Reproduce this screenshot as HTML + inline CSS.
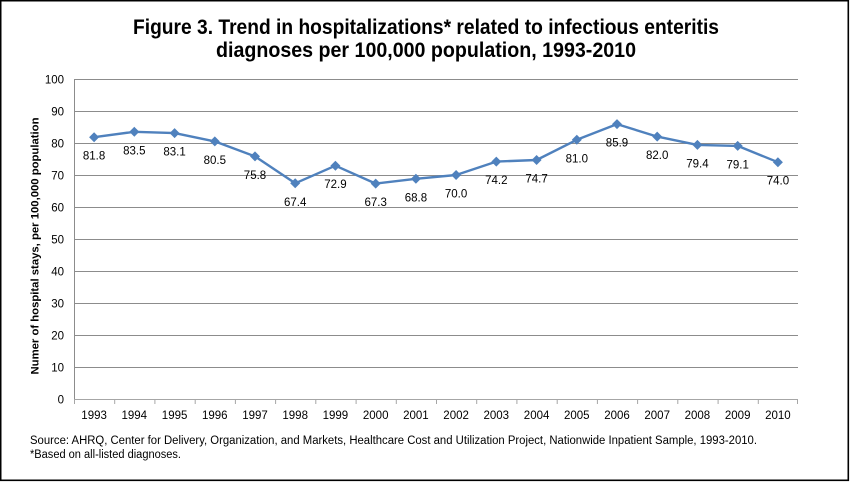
<!DOCTYPE html>
<html>
<head>
<meta charset="utf-8">
<style>
  html,body{margin:0;padding:0;background:#fff;}
  svg{display:block;}
  text{font-family:"Liberation Sans", Arial, sans-serif;}
</style>
</head>
<body>
<svg width="850" height="482" viewBox="0 0 850 482" xmlns="http://www.w3.org/2000/svg">
  <rect x="0" y="0" width="850" height="482" fill="#fff"/>
  <rect x="0.7" y="0.7" width="847.6" height="479.6" fill="none" stroke="#000" stroke-width="1.6"/>

  <!-- Title -->
  <text x="133" y="34" font-size="21" font-weight="bold" fill="#000" textLength="586" lengthAdjust="spacingAndGlyphs">Figure 3. Trend in hospitalizations* related to infectious enteritis</text>
  <text x="216" y="57" font-size="21" font-weight="bold" fill="#000" textLength="420" lengthAdjust="spacingAndGlyphs">diagnoses per 100,000 population, 1993-2010</text>

  <!-- Gridlines -->
  <g stroke="#8c8c8c" stroke-width="1">
    <line x1="74" y1="79.5" x2="798" y2="79.5"/>
    <line x1="74" y1="111.5" x2="798" y2="111.5"/>
    <line x1="74" y1="143.5" x2="798" y2="143.5"/>
    <line x1="74" y1="175.5" x2="798" y2="175.5"/>
    <line x1="74" y1="207.5" x2="798" y2="207.5"/>
    <line x1="74" y1="239.5" x2="798" y2="239.5"/>
    <line x1="74" y1="271.5" x2="798" y2="271.5"/>
    <line x1="74" y1="303.5" x2="798" y2="303.5"/>
    <line x1="74" y1="335.5" x2="798" y2="335.5"/>
    <line x1="74" y1="367.5" x2="798" y2="367.5"/>
    <line x1="74.5" y1="79.5" x2="74.5" y2="399.5"/>
  </g>
  <line x1="74" y1="399.5" x2="798" y2="399.5" stroke="#a6a6a6" stroke-width="1"/>
  <!-- x ticks -->
  <g stroke="#a6a6a6" stroke-width="1">
    <line x1="74.5" y1="399" x2="74.5" y2="404"/>
    <line x1="114.7" y1="399" x2="114.7" y2="404"/>
    <line x1="154.9" y1="399" x2="154.9" y2="404"/>
    <line x1="195.2" y1="399" x2="195.2" y2="404"/>
    <line x1="235.4" y1="399" x2="235.4" y2="404"/>
    <line x1="275.6" y1="399" x2="275.6" y2="404"/>
    <line x1="315.8" y1="399" x2="315.8" y2="404"/>
    <line x1="356.1" y1="399" x2="356.1" y2="404"/>
    <line x1="396.3" y1="399" x2="396.3" y2="404"/>
    <line x1="436.5" y1="399" x2="436.5" y2="404"/>
    <line x1="476.7" y1="399" x2="476.7" y2="404"/>
    <line x1="516.9" y1="399" x2="516.9" y2="404"/>
    <line x1="557.2" y1="399" x2="557.2" y2="404"/>
    <line x1="597.4" y1="399" x2="597.4" y2="404"/>
    <line x1="637.6" y1="399" x2="637.6" y2="404"/>
    <line x1="677.8" y1="399" x2="677.8" y2="404"/>
    <line x1="718.1" y1="399" x2="718.1" y2="404"/>
    <line x1="758.3" y1="399" x2="758.3" y2="404"/>
    <line x1="797.5" y1="399" x2="797.5" y2="404"/>
  </g>

  <!-- Y tick labels -->
  <g font-size="11.5" fill="#000" text-anchor="end">
    <text x="64" y="83.5">100</text>
    <text x="64" y="115.5">90</text>
    <text x="64" y="147.5">80</text>
    <text x="64" y="179.5">70</text>
    <text x="64" y="211.5">60</text>
    <text x="64" y="243.5">50</text>
    <text x="64" y="275.5">40</text>
    <text x="64" y="307.5">30</text>
    <text x="64" y="339.5">20</text>
    <text x="64" y="371.5">10</text>
    <text x="64" y="403.5">0</text>
  </g>

  <!-- X labels -->
  <g font-size="11.5" fill="#000" text-anchor="middle">
    <text x="94.1" y="419">1993</text>
    <text x="134.3" y="419">1994</text>
    <text x="174.6" y="419">1995</text>
    <text x="214.8" y="419">1996</text>
    <text x="255" y="419">1997</text>
    <text x="295.2" y="419">1998</text>
    <text x="335.4" y="419">1999</text>
    <text x="375.7" y="419">2000</text>
    <text x="415.9" y="419">2001</text>
    <text x="456.1" y="419">2002</text>
    <text x="496.3" y="419">2003</text>
    <text x="536.6" y="419">2004</text>
    <text x="576.8" y="419">2005</text>
    <text x="617" y="419">2006</text>
    <text x="657.2" y="419">2007</text>
    <text x="697.4" y="419">2008</text>
    <text x="737.7" y="419">2009</text>
    <text x="777.9" y="419">2010</text>
  </g>

  <!-- Y axis title -->
  <text transform="translate(38.5,246) rotate(-90)" x="0" y="0" text-anchor="middle" font-size="11" font-weight="bold" fill="#000" textLength="257" lengthAdjust="spacingAndGlyphs">Numer of hospital stays, per 100,000 population</text>

  <!-- Series line -->
  <polyline fill="none" stroke="#4F81BD" stroke-width="2.4" stroke-linejoin="round"
    points="94.1,137.2 134.3,131.8 174.6,133.1 214.8,141.4 255,156.4 295.2,183.3 335.4,165.7 375.7,183.6 415.9,178.8 456.1,175 496.3,161.6 536.6,160 576.8,139.8 617,124.1 657.2,136.6 697.4,144.9 737.7,145.9 777.9,162.2"/>

  <!-- Markers -->
  <g fill="#4F81BD">
    <polygon points="94.1,132.2 99.1,137.2 94.1,142.2 89.1,137.2"/>
    <polygon points="134.3,126.8 139.3,131.8 134.3,136.8 129.3,131.8"/>
    <polygon points="174.6,128.1 179.6,133.1 174.6,138.1 169.6,133.1"/>
    <polygon points="214.8,136.4 219.8,141.4 214.8,146.4 209.8,141.4"/>
    <polygon points="255,151.4 260,156.4 255,161.4 250,156.4"/>
    <polygon points="295.2,178.3 300.2,183.3 295.2,188.3 290.2,183.3"/>
    <polygon points="335.4,160.7 340.4,165.7 335.4,170.7 330.4,165.7"/>
    <polygon points="375.7,178.6 380.7,183.6 375.7,188.6 370.7,183.6"/>
    <polygon points="415.9,173.8 420.9,178.8 415.9,183.8 410.9,178.8"/>
    <polygon points="456.1,170 461.1,175 456.1,180 451.1,175"/>
    <polygon points="496.3,156.6 501.3,161.6 496.3,166.6 491.3,161.6"/>
    <polygon points="536.6,155 541.6,160 536.6,165 531.6,160"/>
    <polygon points="576.8,134.8 581.8,139.8 576.8,144.8 571.8,139.8"/>
    <polygon points="617,119.1 622,124.1 617,129.1 612,124.1"/>
    <polygon points="657.2,131.6 662.2,136.6 657.2,141.6 652.2,136.6"/>
    <polygon points="697.4,139.9 702.4,144.9 697.4,149.9 692.4,144.9"/>
    <polygon points="737.7,140.9 742.7,145.9 737.7,150.9 732.7,145.9"/>
    <polygon points="777.9,157.2 782.9,162.2 777.9,167.2 772.9,162.2"/>
  </g>

  <!-- Data labels -->
  <g font-size="11.5" fill="#000" text-anchor="middle">
    <text x="94.1" y="159.7">81.8</text>
    <text x="134.3" y="154.3">83.5</text>
    <text x="174.6" y="155.6">83.1</text>
    <text x="214.8" y="163.9">80.5</text>
    <text x="255" y="178.9">75.8</text>
    <text x="295.2" y="205.8">67.4</text>
    <text x="335.4" y="188.2">72.9</text>
    <text x="375.7" y="206.1">67.3</text>
    <text x="415.9" y="201.3">68.8</text>
    <text x="456.1" y="197.5">70.0</text>
    <text x="496.3" y="184.1">74.2</text>
    <text x="536.6" y="182.5">74.7</text>
    <text x="576.8" y="162.3">81.0</text>
    <text x="617" y="146.6">85.9</text>
    <text x="657.2" y="159.1">82.0</text>
    <text x="697.4" y="167.4">79.4</text>
    <text x="737.7" y="168.4">79.1</text>
    <text x="777.9" y="184.7">74.0</text>
  </g>

  <!-- Footnotes -->
  <text x="30" y="444" font-size="11.5" fill="#000" textLength="727" lengthAdjust="spacingAndGlyphs">Source: AHRQ, Center for Delivery, Organization, and Markets, Healthcare Cost and Utilization Project, Nationwide Inpatient Sample, 1993-2010.</text>
  <text x="30" y="458" font-size="11.5" fill="#000" textLength="151" lengthAdjust="spacingAndGlyphs">*Based on all-listed diagnoses.</text>
</svg>
</body>
</html>
